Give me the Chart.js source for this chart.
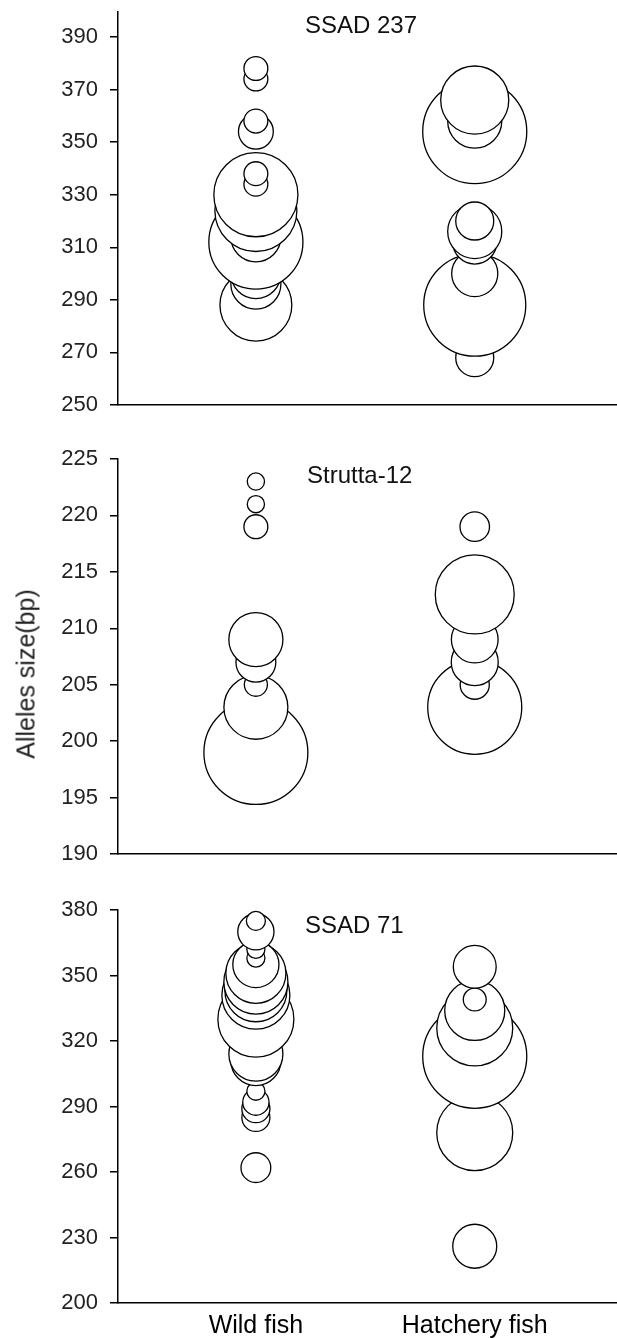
<!DOCTYPE html>
<html>
<head>
<meta charset="utf-8">
<script src="https://cdn.jsdelivr.net/npm/chart.js@4.4.1/dist/chart.umd.min.js"></script>
<style>
  body { margin: 0; background: #fff; }
  #page { position: relative; width: 617px; height: 1338px; overflow: hidden; font-family: "Liberation Sans", Arial, sans-serif; color: #111; }
  #page canvas { position: absolute; left: 0; }
  .marker { position: absolute; font-size: 24px; line-height: 24px; white-space: nowrap; }
  #ytitle { position: absolute; left: 26px; top: 674px; font-size: 25px; line-height: 25px; white-space: nowrap; color: #222;
            transform: translate(-50%, -50%) rotate(-90deg); }
</style>
</head>
<body>
<div id="page">
  <canvas id="graph1" width="617" height="420" style="top:0px"></canvas>
  <canvas id="graph2" width="617" height="450" style="top:420px"></canvas>
  <canvas id="graph3" width="617" height="468" style="top:870px"></canvas>
  <div class="marker" style="left:305px;top:13px">SSAD 237</div>
  <div class="marker" style="left:307px;top:463px">Strutta-12</div>
  <div class="marker" style="left:305px;top:913px">SSAD 71</div>
  <div id="ytitle">Alleles size(bp)</div>
</div>
<script>
// groups on the x axis
const groups = ["Wild fish", "Hatchery fish"];

// SSAD 237 : allele size (bp) and frequency (%)
const ssad237Ticks = [250, 270, 290, 310, 330, 350, 370, 390];
const ssad237WildSize = [288, 296, 300, 312, 314, 324, 330, 334, 338, 354, 358, 374, 378];
const ssad237WildFreq = [13.6, 6.6, 6.6, 23.3, 6.6, 17.7, 18.6, 1.5, 1.5, 3.2, 1.5, 1.5, 1.5];
const ssad237HatchSize = [268, 288, 300, 312, 316, 320, 354, 358, 366];
const ssad237HatchFreq = [3.8, 27.4, 5.6, 5.1, 7.7, 3.8, 28.5, 7.7, 12.2];

// Strutta-12
const strutta12Ticks = [190, 195, 200, 205, 210, 215, 220, 225];
const strutta12WildSize = [199, 203, 205, 207, 209, 219, 221, 223];
const strutta12WildFreq = [51.0, 19.3, 2.5, 7.5, 13.8, 2.7, 1.4, 1.4];
const strutta12HatchSize = [203, 205, 207, 209, 213, 219];
const strutta12HatchFreq = [41.7, 4.0, 10.4, 10.3, 29.4, 4.1];

// SSAD 71
const ssad71Ticks = [200, 230, 260, 290, 320, 350, 380];
const ssad71WildSize = [262, 285, 289, 292, 297, 311, 314, 330, 341, 343, 347, 351, 355, 358, 362, 370, 375];
const ssad71WildFreq = [2.7, 2.4, 2.4, 2.1, 1.0, 7.6, 8.9, 17.6, 14.1, 11.7, 12.5, 11.0, 6.5, 1.0, 1.0, 4.0, 1.1];
const ssad71HatchSize = [226, 278, 313, 326, 334, 339, 354];
const ssad71HatchFreq = [5.9, 17.6, 33.0, 17.6, 11.0, 1.6, 5.6];

const fontFamily = '"Liberation Sans", Arial, sans-serif';

function toPoints(groupIndex, sizes, freqs, areaScale) {
    // bubble area follows the allele frequency
    return sizes.map((s, i) => ({ x: groupIndex + 1, y: s, r: Math.sqrt(freqs[i] * areaScale) }));
}

function makePanel(id, p) {
    const ctx = document.getElementById(id).getContext('2d');
    const bubbleStyle = {
        backgroundColor: '#fff',
        borderColor: '#000',
        borderWidth: 1.3,
        hoverRadius: 0,
        clip: false
    };
    return new Chart(ctx, {
        type: 'bubble',
        data: {
            datasets: [
                Object.assign({ label: groups[0], data: toPoints(0, p.wildSize, p.wildFreq, p.areaScale) }, bubbleStyle),
                Object.assign({ label: groups[1], data: toPoints(1, p.hatchSize, p.hatchFreq, p.areaScale) }, bubbleStyle)
            ]
        },
        options: {
            responsive: false,
            animation: false,
            events: [],
            layout: { autoPadding: false, padding: { top: p.top, left: 0, right: 0, bottom: 0 } },
            plugins: { legend: { display: false }, tooltip: { enabled: false } },
            scales: {
                x: {
                    type: 'linear',
                    min: 0.37,
                    max: 2.65,
                    afterBuildTicks: s => { s.ticks = groups.map((g, i) => ({ value: i + 1 })); },
                    afterFit: s => { s.height = p.xHeight; s.paddingLeft = 0; s.paddingRight = 0; },
                    border: { display: true, color: '#000', width: 1.5 },
                    grid: { display: false, drawTicks: false },
                    ticks: {
                        display: p.showGroups,
                        autoSkip: false,
                        maxRotation: 0,
                        padding: 8,
                        color: '#000',
                        font: { family: fontFamily, size: 25 },
                        callback: (v, i) => groups[i]
                    }
                },
                y: {
                    type: 'linear',
                    min: p.min,
                    max: p.max,
                    afterBuildTicks: s => { s.ticks = p.ticks.map(v => ({ value: v })); },
                    afterFit: s => { s.width = 118; s.paddingTop = 0; s.paddingBottom = 0; },
                    border: { display: true, color: '#000', width: 1.5 },
                    grid: { drawOnChartArea: false, drawTicks: true, tickLength: 8, color: '#000', lineWidth: 1.5 },
                    ticks: {
                        padding: 12,
                        color: '#222',
                        font: { family: fontFamily, size: 22 }
                    }
                }
            }
        }
    });
}

makePanel('graph1', {
    min: 250, max: 399.5, ticks: ssad237Ticks,
    wildSize: ssad237WildSize, wildFreq: ssad237WildFreq,
    hatchSize: ssad237HatchSize, hatchFreq: ssad237HatchFreq,
    areaScale: 95, top: 12, xHeight: 15, showGroups: false
});

makePanel('graph2', {
    min: 190, max: 225, ticks: strutta12Ticks,
    wildSize: strutta12WildSize, wildFreq: strutta12WildFreq,
    hatchSize: strutta12HatchSize, hatchFreq: strutta12HatchFreq,
    areaScale: 53, top: 39, xHeight: 16, showGroups: false
});

makePanel('graph3', {
    min: 200, max: 380, ticks: ssad71Ticks,
    wildSize: ssad71WildSize, wildFreq: ssad71WildFreq,
    hatchSize: ssad71HatchSize, hatchFreq: ssad71HatchFreq,
    areaScale: 82, top: 40, xHeight: 35, showGroups: true
});
</script>
</body>
</html>
